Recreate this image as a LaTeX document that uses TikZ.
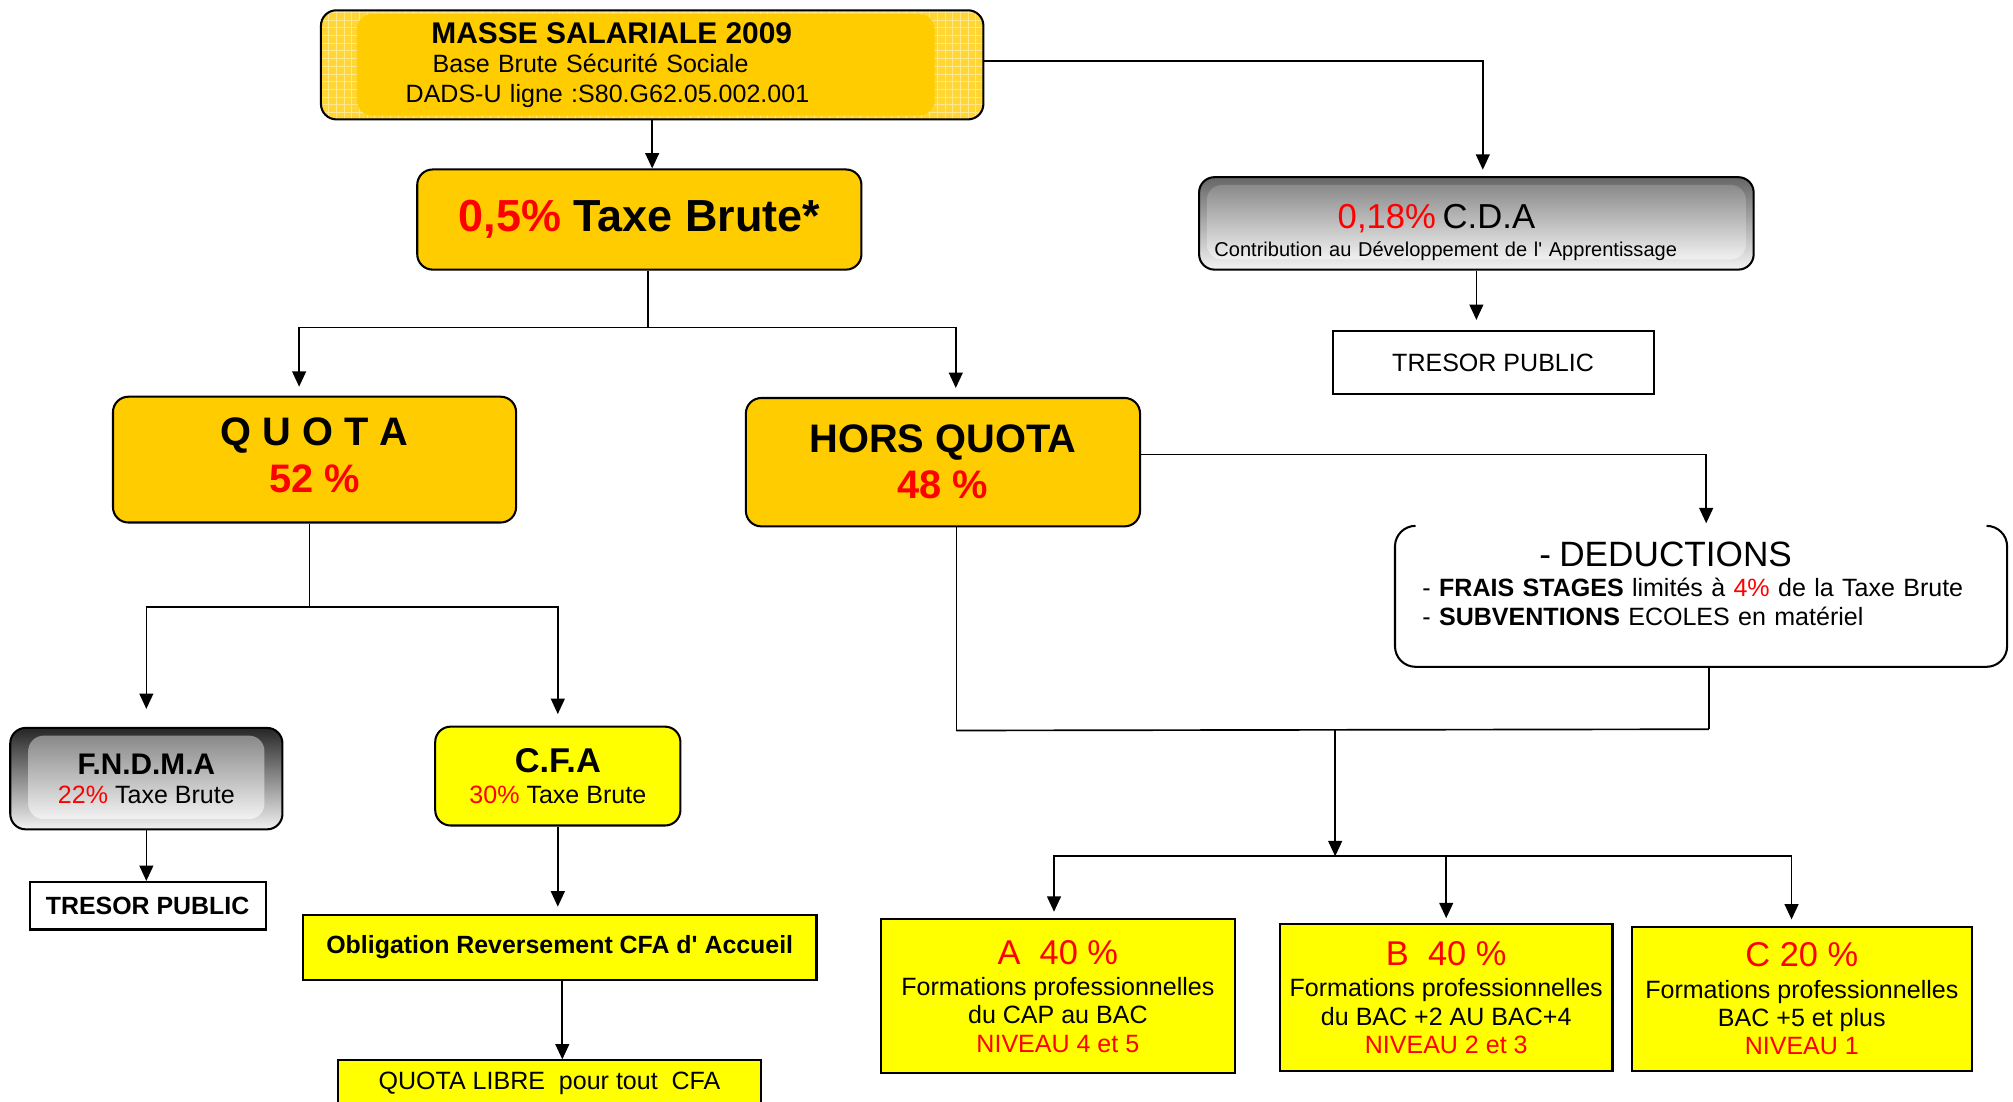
\documentclass[tikz,border=0pt]{standalone}
\usepackage{fontspec}
\setmainfont{Liberation Sans}[Ligatures=TeXOff]
\usetikzlibrary{arrows.meta}

\definecolor{masseorange}{HTML}{FFCC00}
\definecolor{cfayellow}{HTML}{FFFF00}

\begin{document}
\begin{tikzpicture}[x=0.5pt, y=-0.5pt, font=\fontsize{9.75}{11.5}\selectfont]
  \tikzset{roundbox/.style={rectangle, rounded corners=6pt, draw,
      line width=0.8pt, align=center, inner sep=0pt}}
  \tikzset{orangebox/.style={roundbox, fill=masseorange}}
  \tikzset{yellowround/.style={roundbox, fill=cfayellow}}
  \tikzset{yellowbox/.style={rectangle, draw, line width=0.8pt,
      fill=cfayellow, align=center, inner sep=0pt}}
  \tikzset{plainbox/.style={rectangle, draw, line width=0.8pt,
      align=center, inner sep=0pt}}
  \tikzset{graybox/.style n args={2}{roundbox, top color=black!#2, bottom color=black!5,
      path picture={\shade[top color=black!50, bottom color=white]
        ([xshift=#1,yshift=-3pt]path picture bounding box.north west) rectangle
        ([xshift=-#1,yshift=4pt]path picture bounding box.south east);}}}
  \tikzset{massebox/.style={roundbox, fill=masseorange!80!white,
      path picture={\draw[masseorange!45!white, line width=0.3pt, step=3pt]
        (path picture bounding box.south west) grid (path picture bounding box.north east);
        \fill[masseorange]
        ([xshift=14pt,yshift=-1.5pt]path picture bounding box.north west) rectangle
        ([xshift=-19pt,yshift=1.5pt]path picture bounding box.south east);}}}
  \tikzset{flow/.style={-{Triangle[length=6pt,width=5.4pt]}, line width=0.65pt}}
  \tikzset{link/.style={line width=0.65pt}}

  \useasboundingbox (0,0) rectangle (1568,858);
  \clip (0,0) rectangle (1568,858);

  % top of the tree
  \node[massebox, minimum width=258pt, minimum height=42.5pt,
    text width=192pt, inner xsep=33pt, align=left] (masse) at (508,50.5)
    {\hspace*{10pt}{\fontsize{11.65}{11.5}\selectfont\bfseries MASSE SALARIALE 2009}\\
     \hspace*{10.5pt}Base Brute Sécurité Sociale\\
     DADS-U ligne :S80.G62.05.002.001};
  \node[orangebox, minimum width=173pt, minimum height=39pt,
    font=\fontsize{17.5}{20}\selectfont\bfseries] (taxe) at (498,171)
    {\textcolor{red}{0,5\%} Taxe Brute*};
  \node[graybox={3pt}{60}, minimum width=216pt, minimum height=36pt,
    text width=204pt, inner xsep=6pt, align=left, font=\fontsize{7.8}{11}\selectfont]
    (cda) at (1150,174)
    {\hspace*{48pt}\rule{0pt}{16.3pt}{\fontsize{13.5}{11}\selectfont\textcolor{red}{0,18\%} C.D.A}\\
     Contribution au Développement de l' Apprentissage};
  \node[plainbox, minimum width=125pt, minimum height=24.5pt] (tresorR) at (1163,282.5)
    {TRESOR PUBLIC};

  % quota / hors quota
  \node[orangebox, minimum width=157pt, minimum height=49pt,
    font=\fontsize{15.5}{18}\selectfont\bfseries] (quota) at (245,358)
    {Q U O T A\\\textcolor{red}{52 \%}\rule[-3.5pt]{0pt}{3.5pt}};
  \node[orangebox, minimum width=153.5pt, minimum height=50pt,
    font=\fontsize{15.5}{18}\selectfont\bfseries] (hors) at (734.5,360)
    {HORS QUOTA\\\textcolor{red}{48 \%}};
  \node[rectangle, fill=white, minimum width=238pt, minimum height=54.5pt,
    text width=217pt, inner xsep=10.5pt, inner ysep=0pt, align=left] (ded) at (1325,464.5)
    {\hspace*{45.5pt}{\fontsize{13.7}{11.5}\selectfont - DEDUCTIONS}\\
     - \textbf{FRAIS STAGES} limités à \textcolor{red}{4\%} de la Taxe Brute\\
     - \textbf{SUBVENTIONS} ECOLES en matériel\rule[-9.5pt]{0pt}{9.5pt}};
  \draw[line width=0.8pt, rounded corners=8pt] ([xshift=8pt]ded.north west) --
    (ded.north west) -- (ded.south west) -- (ded.south east) -- (ded.north east) --
    ([xshift=-8pt]ded.north east);

  % quota side
  \node[graybox={7pt}{85}, minimum width=106pt, minimum height=39.5pt,
    font=\fontsize{9.75}{11.35}\selectfont] (fndma) at (114,606.5)
    {{\fontsize{11.6}{11.35}\selectfont\bfseries F.N.D.M.A}\\\textcolor{red}{22\%} Taxe Brute};
  \node[plainbox, minimum width=92pt, minimum height=18.5pt, font=\fontsize{9.7}{11}\selectfont\bfseries]
    (tresorL) at (115,705.5) {TRESOR PUBLIC};
  \node[yellowround, minimum width=95.5pt, minimum height=38.5pt,
    font=\fontsize{9.75}{12.2}\selectfont] (cfa) at (434.5,604.5)
    {{\fontsize{13.4}{12.2}\selectfont\bfseries C.F.A}\\\textcolor{red}{30\%} Taxe Brute};
  \node[yellowbox, minimum width=200pt, minimum height=25pt, font=\fontsize{9.7}{11}\selectfont\bfseries]
    (oblig) at (436,738) {Obligation Reversement CFA d' Accueil};
  \node[yellowbox, minimum width=165pt, minimum height=17.5pt] (libre) at (428,843.5)
    {QUOTA LIBRE\ \ pour tout\ \ CFA};

  % hors quota side
  \node[yellowbox, minimum width=138pt, minimum height=60pt, font=\fontsize{9.75}{11}\selectfont]
    (formA) at (824,776)
    {\textcolor{red}{\fontsize{13.4}{11}\selectfont A\ \ 40 \%}\\[1.2pt]
     Formations professionnelles\\du CAP au BAC\\\textcolor{red}{NIVEAU 4 et 5}};
  \node[yellowbox, minimum width=129.5pt, minimum height=57pt, font=\fontsize{9.75}{11}\selectfont]
    (formB) at (1126.5,777)
    {\textcolor{red}{\fontsize{13.4}{11}\selectfont B\ \ 40 \%}\\[1.2pt]
     Formations professionnelles\\du BAC +2 AU BAC+4\\\textcolor{red}{NIVEAU 2 et 3}};
  \node[yellowbox, minimum width=132.5pt, minimum height=56pt, font=\fontsize{9.75}{11}\selectfont]
    (formC) at (1403.5,778)
    {\textcolor{red}{\fontsize{13.4}{11}\selectfont C 20 \%}\\[1.2pt]
     Formations professionnelles\\BAC +5 et plus\\\textcolor{red}{NIVEAU 1}};

  % branching points
  \coordinate (tsplit) at (505,255);
  \coordinate (qsplit) at (241,473);
  \coordinate (hmergeL) at (745,569);
  \coordinate (hmergeR) at (1331,568);
  \coordinate (hmergeM) at (1040,568);
  \coordinate (fsplit) at (1040,667);

  \draw[flow] (masse.south) -- (masse.south |- taxe.north);
  \draw[flow, shorten >=2.5pt] ([yshift=1.5pt]masse.east) -| ([xshift=2.5pt]cda.north);
  \draw[flow, shorten >=4pt] (cda.south) -- (cda.south |- tresorR.north);
  \draw[link] (tsplit |- taxe.south) -- (tsplit);
  \draw[flow, shorten >=3.5pt] (tsplit) -| ([xshift=-6pt]quota.north);
  \draw[flow, shorten >=3.5pt] (tsplit) -| ([xshift=5pt]hors.north);
  \draw[link] (qsplit |- quota.south) -- (qsplit);
  \draw[flow, shorten >=7pt] (qsplit) -| (fndma.north);
  \draw[flow, shorten >=4.5pt] (qsplit) -| (cfa.north);
  \draw[flow] (fndma.south) -- (fndma.south |- tresorL.north);
  \draw[flow, shorten >=3pt] (cfa.south) -- (cfa.south |- oblig.north);
  \draw[flow] ([xshift=1pt]oblig.south) -- ([xshift=1pt]oblig.south |- libre.north);
  \draw[flow, shorten >=1pt] ([yshift=3pt]hors.east) -| ([xshift=2pt]ded.north);
  \draw[link] (hmergeL |- hors.south) -- (hmergeL);
  \draw[link] (hmergeR |- ded.south) -- (hmergeR);
  \draw[link] (hmergeL) -- (hmergeR);
  \draw[flow] (hmergeM) -- (fsplit);
  \draw[flow, shorten >=2.5pt] (fsplit) -| ([xshift=-1.5pt]formA.north);
  \draw[flow, shorten >=2pt] (fsplit) -| (formB.north);
  \draw[flow, shorten >=2.5pt] (fsplit) -| ([xshift=-4pt]formC.north);
\end{tikzpicture}
\end{document}
